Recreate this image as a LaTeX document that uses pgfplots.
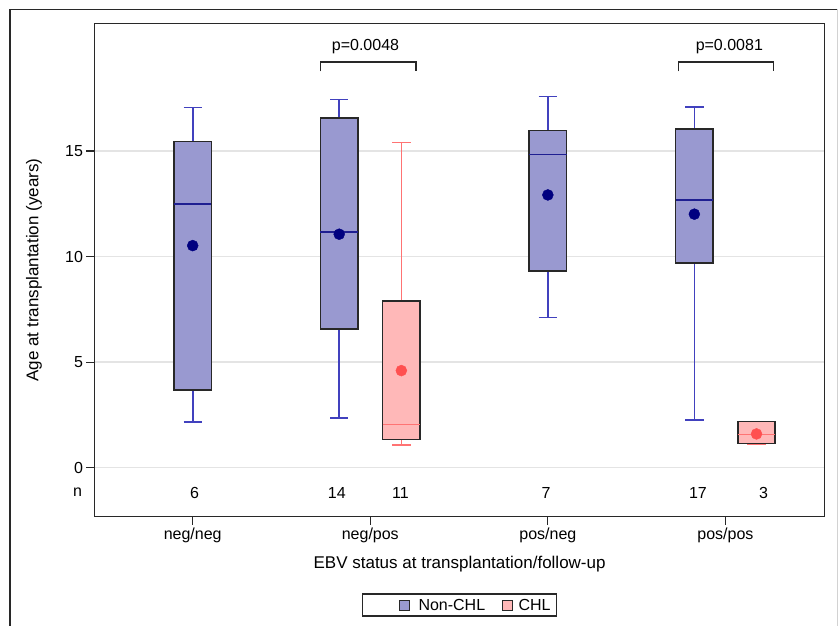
\documentclass[border=0pt]{standalone}
\usepackage{fontspec}
\setmainfont{Liberation Sans}
\usepackage{pgfplots}
\pgfplotsset{compat=1.18}
\usepgfplotslibrary{statistics}

\definecolor{nonfill}{RGB}{153,153,208}
\definecolor{nonwhisk}{RGB}{65,65,190}
\definecolor{nonmed}{RGB}{30,30,145}
\definecolor{nonmean}{RGB}{0,0,128}
\definecolor{chlfill}{RGB}{255,184,184}
\definecolor{chlline}{RGB}{255,115,115}
\definecolor{chlmean}{RGB}{255,80,80}
\definecolor{frame}{RGB}{40,40,40}
\definecolor{gridc}{RGB}{228,228,228}

\pgfplotsset{
  nonchl/.style={forget plot,
    boxplot/every box/.style={draw=frame, fill=nonfill, line width=1.6bp},
    boxplot/every whisker/.style={draw=nonwhisk, line width=1.7bp},
    boxplot/every median/.style={draw=nonmed, line width=1.6bp}},
  chl/.style={forget plot,
    boxplot/every box/.style={draw=frame, fill=chlfill, line width=1.6bp},
    boxplot/every whisker/.style={draw=chlline, line width=1.7bp},
    boxplot/every median/.style={draw=chlline, line width=1.6bp}},
}

\begin{document}
\begin{tikzpicture}
\begin{axis}[
  at={(0,0)}, anchor=south west,
  scale only axis, width=730.2bp, height=493.4bp,
  xmin=-0.553, xmax=3.559, ymin=-2.32, ymax=21.05,
  axis line style={draw=frame, line width=1.2bp},
  xtick={0,1,2,3}, xticklabels={neg/neg,neg/pos,pos/neg,pos/pos},
  ytick={0,5,10,15},
  tick pos=left, tick align=outside, major tick length=8bp,
  tick style={draw=frame, line width=1.2bp},
  ymajorgrids, major grid style={draw=gridc, line width=1.5bp},
  tick label style={font=\fontsize{16bp}{19bp}\selectfont},
  /pgf/number format/assume math mode=true,
  clip=false,
  xlabel={EBV status at transplantation/follow-up},
  ylabel={Age at transplantation (years)},
  label style={font=\fontsize{17bp}{20bp}\selectfont},
  x label style={at={(axis description cs:0.5,-0.0965)}, anchor=center},
  y label style={at={(axis description cs:-0.0829,0.5)}, anchor=center},
  boxplot/draw direction=y,
  boxplot/box extend=0.211, boxplot/whisker extend=0.103,
]
% Non-CHL
\addplot[nonchl, boxplot prepared={draw position=0, lower whisker=2.18, lower quartile=3.68, median=12.48, upper quartile=15.45, upper whisker=17.06}] coordinates {};
\addplot[nonchl, boxplot prepared={draw position=0.825, lower whisker=2.34, lower quartile=6.56, median=11.17, upper quartile=16.56, upper whisker=17.44}] coordinates {};
\addplot[nonchl, boxplot prepared={draw position=2, lower whisker=7.11, lower quartile=9.32, median=14.83, upper quartile=15.97, upper whisker=17.58}] coordinates {};
\addplot[nonchl, boxplot prepared={draw position=2.825, lower whisker=2.26, lower quartile=9.69, median=12.67, upper quartile=16.04, upper whisker=17.08}] coordinates {};
% CHL
\addplot[chl, boxplot prepared={draw position=1.175, lower whisker=1.06, lower quartile=1.33, median=2.04, upper quartile=7.90, upper whisker=15.40}] coordinates {};
\addplot[chl, boxplot prepared={draw position=3.175, lower whisker=1.14, lower quartile=1.14, median=1.58, upper quartile=2.18, upper whisker=2.18}] coordinates {};
% means
\addplot[only marks, mark=*, mark size=5.5bp, color=nonmean, forget plot] coordinates {(0,10.52) (0.825,11.06) (2,12.92) (2.825,12.01)};
\addplot[only marks, mark=*, mark size=5.5bp, color=chlmean, forget plot] coordinates {(1.175,4.60) (3.175,1.60)};
% brackets
\addplot[frame, line width=1.3bp, forget plot] coordinates {(0.72,18.77) (0.72,19.21) (1.258,19.21) (1.258,18.77)};
\addplot[frame, line width=1.3bp, forget plot] coordinates {(2.737,18.77) (2.737,19.21) (3.272,19.21) (3.272,18.77)};
\node[font=\fontsize{16bp}{19bp}\selectfont] at (axis cs:0.973,19.95) {p=0.0048};
\node[font=\fontsize{16bp}{19bp}\selectfont] at (axis cs:3.022,19.95) {p=0.0081};
% n row
\begin{scope}[every node/.style={font=\fontsize{16bp}{19bp}\selectfont}]
\node at (axis cs:-0.648,-1.18) {n};
\node at (axis cs:0.01,-1.18) {6};
\node at (axis cs:0.812,-1.18) {14};
\node at (axis cs:1.17,-1.18) {11};
\node at (axis cs:1.99,-1.18) {7};
\node at (axis cs:2.845,-1.18) {17};
\node at (axis cs:3.215,-1.18) {3};
\end{scope}
\end{axis}
% legend
\draw[frame, line width=1.2bp] (268.2bp,-77.3bp) rectangle (462.2bp,-99.3bp);
\filldraw[fill=nonfill, draw=frame, line width=1bp] (304.8bp,-83.3bp) rectangle (314.8bp,-93.3bp);
\node[anchor=west, inner sep=0pt, font=\fontsize{16bp}{19bp}\selectfont] at (323.8bp,-88.3bp) {Non-CHL};
\filldraw[fill=chlfill, draw=frame, line width=1bp] (407.8bp,-83.3bp) rectangle (417.8bp,-93.3bp);
\node[anchor=west, inner sep=0pt, font=\fontsize{16bp}{19bp}\selectfont] at (423.8bp,-88.3bp) {CHL};
% outer frame
\draw[frame, line width=1.2bp] (-84.5bp,-109.3bp) -- (-84.5bp,507.4bp) -- (743.5bp,507.4bp);
\draw[gray!35, line width=1bp] (742.5bp,-109.3bp) -- (742.5bp,507.4bp);
\pgfresetboundingbox
\path[use as bounding box] (-94.5bp,-109.3bp) rectangle (743.5bp,516.7bp);
\end{tikzpicture}
\end{document}
